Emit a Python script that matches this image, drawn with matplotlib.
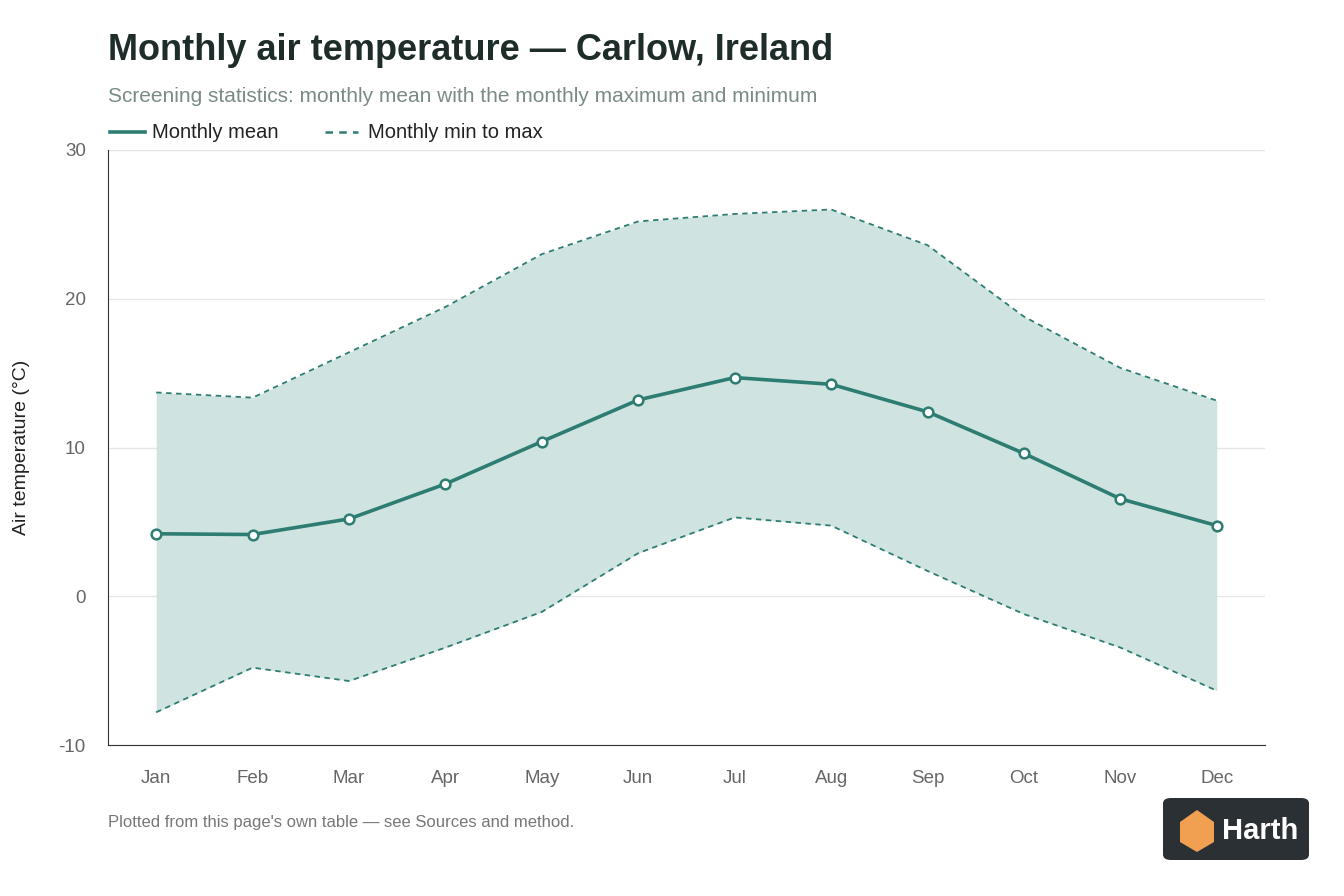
import matplotlib.pyplot as plt
from matplotlib.patches import FancyBboxPatch, Polygon
import numpy as np

months = ["Jan", "Feb", "Mar", "Apr", "May", "Jun", "Jul", "Aug", "Sep", "Oct", "Nov", "Dec"]
mean_t = [4.2, 4.15, 5.2, 7.55, 10.4, 13.2, 14.7, 14.25, 12.4, 9.6, 6.55, 4.75]
max_t = [13.7, 13.35, 16.4, 19.45, 23.0, 25.2, 25.7, 26.0, 23.6, 18.8, 15.35, 13.15]
min_t = [-7.8, -4.8, -5.7, -3.45, -1.05, 2.9, 5.3, 4.75, 1.7, -1.2, -3.45, -6.35]

plt.rcParams["font.family"] = ["Liberation Sans", "DejaVu Sans"]
plt.rcParams["axes.unicode_minus"] = False
green = "#2e7d72"

fig = plt.figure(figsize=(13.44, 8.96), dpi=100)
W, H = 1344, 896
ax = fig.add_axes([108 / W, 1 - 745 / H, (1265 - 108) / W, (745 - 150) / H])

x = np.arange(len(months))
ax.fill_between(x, min_t, max_t, color="#cfe4e0", lw=0)
ax.plot(x, max_t, "--", color=green, lw=1.3, dashes=(3, 2.5))
ax.plot(x, min_t, "--", color=green, lw=1.3, dashes=(3, 2.5))
ax.plot(x, mean_t, "-", color=green, lw=2.6, marker="o", ms=7,
        mfc="white", mec=green, mew=1.8, zorder=5)

ax.set_xlim(-0.5, 11.5)
ax.set_ylim(-10, 30)
ax.set_xticks(x)
ax.set_xticklabels(months)
ax.set_yticks([-10, 0, 10, 20, 30])
ax.tick_params(axis="both", length=0, labelsize=13.5, colors="#666666", pad=16)
ax.tick_params(axis="x", pad=18)
ax.grid(axis="y", color="#e6e6e6", lw=1)
ax.set_axisbelow(True)
for s in ["top", "right"]:
    ax.spines[s].set_visible(False)
for s in ["left", "bottom"]:
    ax.spines[s].set_color("#333333")
ax.set_ylabel("Air temperature (°C)", fontsize=14, color="#222222")
ax.yaxis.set_label_coords(-78 / 1157, 0.5)

fig.text(108 / W, 1 - 50 / H, "Monthly air temperature — Carlow, Ireland",
         fontsize=26, fontweight="bold", color="#1f2d2a", va="center")
fig.text(108 / W, 1 - 97 / H,
         "Screening statistics: monthly mean with the monthly maximum and minimum",
         fontsize=15, color="#7a8a86", va="center")

# legend
ly = 1 - 132 / H
fig.add_artist(plt.Line2D([110 / W, 145 / W], [ly, ly], color=green, lw=2.6))
fig.text(152 / W, ly, "Monthly mean", fontsize=14.5, color="#222222", va="center")
fig.add_artist(plt.Line2D([325 / W, 358 / W], [ly, ly], color=green, lw=1.8,
                          ls="--", dashes=(3, 2.5)))
fig.text(368 / W, ly, "Monthly min to max", fontsize=14.5, color="#222222", va="center")

fig.text(108 / W, 1 - 822 / H, "Plotted from this page's own table — see Sources and method.",
         fontsize=12, color="#777777", va="center")

# logo
box = FancyBboxPatch((1163 / W, 1 - 860 / H), 146 / W, 62 / H,
                     boxstyle="round,pad=0,rounding_size=0.006",
                     transform=fig.transFigure, fc="#2b3035", ec="none")
fig.add_artist(box)
fig.add_artist(Polygon([[1180 / W, 1 - 822 / H], [1197 / W, 1 - 810 / H],
                        [1214 / W, 1 - 822 / H], [1214 / W, 1 - 842 / H],
                        [1197 / W, 1 - 852 / H], [1180 / W, 1 - 842 / H]],
                       closed=True, transform=fig.transFigure, fc="#f0a050", ec="none"))
fig.text(1222 / W, 1 - 831 / H, "Harth", fontsize=21, fontweight="bold",
         color="white", va="center")

fig.savefig("out.png", dpi=100, facecolor="white")
